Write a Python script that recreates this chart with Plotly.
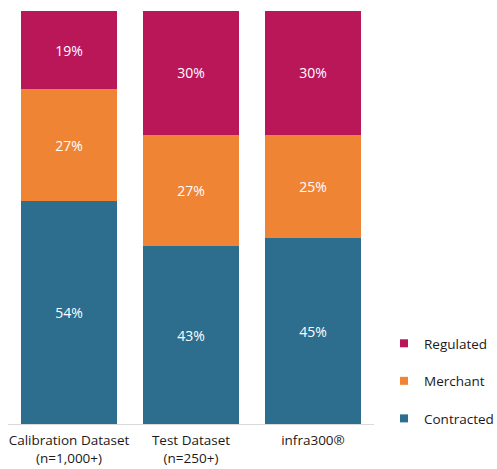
import plotly.graph_objects as go

categories = ["Calibration Dataset<br>(n=1,000+)", "Test Dataset<br>(n=250+)", "infra300®"]
contracted = [54, 43, 45]
merchant = [27, 27, 25]
regulated = [19, 30, 30]

series = [
    ("Contracted", contracted, "#2D6D8D", 3),
    ("Merchant", merchant, "#EE8434", 2),
    ("Regulated", regulated, "#BA1759", 1),
]

FONT = "Open Sans, Lato, sans-serif"

fig = go.Figure()
for name, vals, color, rank in series:
    fig.add_trace(go.Bar(
        name=name,
        x=categories,
        y=vals,
        marker=dict(color=color, line=dict(width=0)),
        text=[f"{v}%" for v in vals],
        textposition="inside",
        insidetextanchor="middle",
        textfont=dict(color="white", size=14, family=FONT),
        showlegend=False,
        hoverinfo="skip",
    ))
    # small square legend key for each series
    fig.add_trace(go.Scatter(
        name=name,
        x=[None],
        y=[None],
        mode="markers",
        marker=dict(symbol="square", size=8, color=color),
        legendgroup=name,
        legendrank=rank,
        hoverinfo="skip",
    ))

fig.update_layout(
    barmode="stack",
    bargap=0.21,
    width=497,
    height=469,
    margin=dict(l=8, r=123, t=11, b=45, autoexpand=False),
    paper_bgcolor="white",
    plot_bgcolor="white",
    font=dict(family=FONT, size=13, color="#1A1A1A"),
    uniformtext=dict(mode="show", minsize=8),
    xaxis=dict(
        showline=True, linecolor="#D9D9D9", linewidth=1,
        showgrid=False, ticks="", tickfont=dict(size=13.5, color="#1A1A1A"),
        ticklabelstandoff=4,
    ),
    yaxis=dict(range=[0, 100], visible=False, showgrid=False, zeroline=False),
    legend=dict(
        xref="container", yref="container",
        x=384 / 497, xanchor="left", y=35 / 469, yanchor="bottom",
        traceorder="grouped", tracegroupgap=17,
        font=dict(size=13.5, color="#1A1A1A"),
        itemwidth=30,
    ),
)

fig.write_html("out.html")
